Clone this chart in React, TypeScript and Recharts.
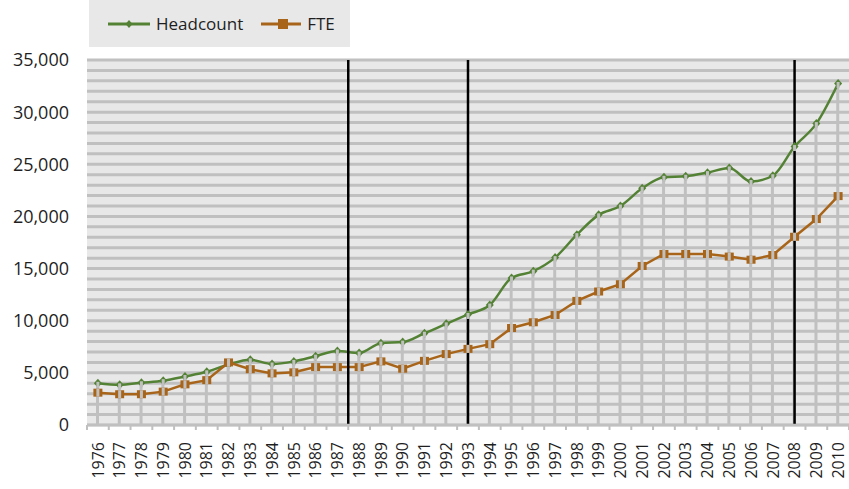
import React from 'react'
import {
  ComposedChart,
  Line,
  Bar,
  XAxis,
  YAxis,
  CartesianGrid,
  ReferenceLine,
  Legend
} from 'recharts'

const years = [
  1976, 1977, 1978, 1979, 1980, 1981, 1982, 1983, 1984, 1985, 1986, 1987,
  1988, 1989, 1990, 1991, 1992, 1993, 1994, 1995, 1996, 1997, 1998, 1999,
  2000, 2001, 2002, 2003, 2004, 2005, 2006, 2007, 2008, 2009, 2010
]

const headcount = [
  4000, 3850, 4050, 4250, 4650, 5100, 5800, 6250, 5850, 6100, 6600, 7100,
  6900, 7850, 7950, 8800, 9700, 10600, 11500, 14100, 14750, 16050, 18250, 20150,
  21000, 22700, 23750, 23850, 24200, 24650, 23350, 23900, 26700, 28900, 32750
]

const fte = [
  3100, 2950, 2950, 3200, 3900, 4300, 6000, 5350, 4950, 5050, 5550, 5550,
  5550, 6100, 5400, 6150, 6800, 7300, 7750, 9300, 9850, 10550, 11900, 12800,
  13500, 15250, 16400, 16400, 16400, 16150, 15850, 16300, 18050, 19750, 21950
]

const yTicks = [0, 5000, 10000, 15000, 20000, 25000, 30000, 35000]
const Y_MAX = 35000
// minor gridlines every 1,000
const gridValues = Array.from({ length: 36 }, (_, i) => i * 1000)
const dividers = [1987.5, 1993, 2008]

const GREEN = '#548235'
const ORANGE = '#a8651a'
const GRID = '#c0c0c0'
const FONT = '"Open Sans", sans-serif'

const data = years.map((year, i) => ({
  year,
  headcount: headcount[i],
  fte: fte[i]
}))

// labels sit on the years, tick marks sit between them
const xTicks: number[] = []
years.forEach((y) => {
  xTicks.push(y - 0.5)
  xTicks.push(y)
})
xTicks.push(years[years.length - 1] + 0.5)

const XTick = (props: any) => {
  const { x, y, payload } = props
  if (!Number.isInteger(payload.value)) {
    return <line x1={x} x2={x} y1={y} y2={y + 5} stroke={GRID} strokeWidth={2} />
  }
  return (
    <text
      x={x}
      y={y + 17}
      transform={`rotate(-90 ${x} ${y + 17})`}
      textAnchor="end"
      dy="0.36em"
      fontSize={16}
      fontFamily={FONT}
      fill="#1f1f1f"
    >
      {payload.value}
    </text>
  )
}

const gridYs = (props: any) => {
  const { yAxis, offset } = props
  if (yAxis && typeof yAxis.scale === 'function') {
    return gridValues.map((v) => yAxis.scale(v))
  }
  return gridValues.map((v) => offset.top + offset.height * (1 - v / Y_MAX))
}

// the grey drop line runs through every marker, so it is drawn into them
const diamond = (props: any) => {
  const { cx, cy, index } = props
  return (
    <g key={'d' + index}>
      <path
        d={`M${cx},${cy - 4.5}L${cx + 4},${cy}L${cx},${cy + 4.5}L${cx - 4},${cy}Z`}
        fill={GREEN}
      />
      <rect x={cx - 1.5} y={cy - 1.5} width={3} height={6} fill={GRID} />
    </g>
  )
}

const square = (props: any) => {
  const { cx, cy, index } = props
  return (
    <g key={'s' + index}>
      <rect x={cx - 4.5} y={cy - 4} width={9} height={8} fill={ORANGE} />
      <rect x={cx - 1.5} y={cy - 4} width={3} height={8} fill={GRID} />
    </g>
  )
}

const LegendBox = () => (
  <div
    style={{
      background: '#e8e8e8',
      width: 261,
      height: 47,
      display: 'flex',
      alignItems: 'center',
      fontFamily: FONT,
      fontSize: 17,
      color: '#1f1f1f'
    }}
  >
    <svg width={44} height={12} style={{ marginLeft: 19, marginRight: 4 }}>
      <line x1={0} x2={42} y1={6} y2={6} stroke={GREEN} strokeWidth={3} />
      <path d="M21,2L24.5,6L21,10L17.5,6Z" fill={GREEN} />
    </svg>
    <span>Headcount</span>
    <svg width={42} height={12} style={{ marginLeft: 18, marginRight: 4 }}>
      <line x1={0} x2={40} y1={6} y2={6} stroke={ORANGE} strokeWidth={3} />
      <rect x={17} y={1} width={10} height={10} fill={ORANGE} />
    </svg>
    <span>FTE</span>
  </div>
)

export default function App() {
  return (
    <div style={{ position: 'absolute', left: 0, top: 0, width: 849, height: 489, overflow: 'hidden', background: '#fff' }}>
      <ComposedChart
        width={849}
        height={489}
        data={data}
        margin={{ top: 60, right: 0, left: 0, bottom: 0 }}
      >
        <CartesianGrid
          vertical={false}
          horizontalCoordinatesGenerator={gridYs}
          stroke={GRID}
          strokeWidth={3}
          fill="#e8e8e8"
        />
        <XAxis
          dataKey="year"
          type="number"
          domain={[1975.5, 2010.5]}
          ticks={xTicks}
          interval={0}
          tick={<XTick />}
          tickLine={false}
          tickSize={0}
          tickMargin={0}
          axisLine={{ stroke: GRID, strokeWidth: 2.5 }}
          height={64}
        />
        <YAxis
          domain={[0, Y_MAX]}
          ticks={yTicks}
          width={87}
          axisLine={false}
          tickLine={false}
          tickMargin={12}
          tickFormatter={(v: number) => v.toLocaleString('en-US')}
          tick={{ fontSize: 18, fontFamily: FONT, fill: '#1f1f1f' }}
        />
        <Legend
          layout="horizontal"
          verticalAlign="middle"
          align="center"
          wrapperStyle={{ top: 0, left: 89, width: 261, height: 47 }}
          content={<LegendBox />}
        />
        <Bar
          dataKey={(d: any) => Math.max(d.headcount, d.fte)}
          barSize={3}
          fill={GRID}
          isAnimationActive={false}
          legendType="none"
        />
        <Line
          type="monotone"
          dataKey="headcount"
          name="Headcount"
          stroke={GREEN}
          strokeWidth={2.5}
          dot={diamond}
          activeDot={false}
          isAnimationActive={false}
        />
        <Line
          type="linear"
          dataKey="fte"
          name="FTE"
          stroke={ORANGE}
          strokeWidth={2.5}
          dot={square}
          activeDot={false}
          isAnimationActive={false}
        />
        {dividers.map((x) => (
          <ReferenceLine key={x} x={x} stroke="#000" strokeWidth={2.5} />
        ))}
      </ComposedChart>
    </div>
  )
}
